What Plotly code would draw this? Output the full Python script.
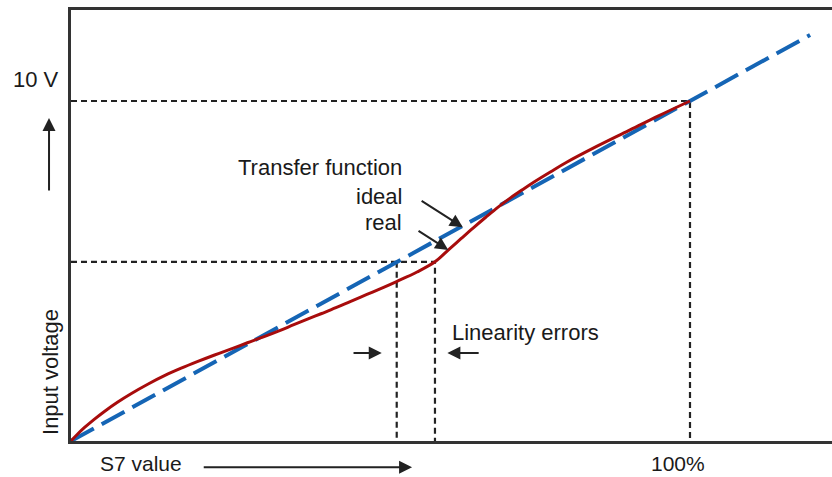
import plotly.graph_objects as go

# ---- data (x in % of S7 range, y in volts) ----
ideal_x = [0, 119.4]
ideal_y = [0, 11.94]

real_x = [0, 1.0, 2.15, 3.7, 5.4, 7.5, 9.7, 12.4, 15.1, 17.8, 20.5, 23.2, 25.9,
          28.5, 31.2, 33.6, 36.0, 38.3, 40.5, 42.8, 45.1, 47.8, 50.5, 52.6,
          55.9, 58.8, 61.2, 63.0, 65.0, 67.0, 69.0, 71.0, 73.0, 75.0, 77.5,
          80.0, 85.0, 90.0, 95.0, 100.0]
real_y = [0, 0.19, 0.39, 0.63, 0.87, 1.14, 1.39, 1.67, 1.92, 2.14, 2.34, 2.53, 2.71,
          2.89, 3.07, 3.24, 3.42, 3.59, 3.75, 3.92, 4.10, 4.31, 4.52, 4.69,
          4.97, 5.27, 5.66, 5.95, 6.27, 6.58, 6.88, 7.15, 7.40, 7.64, 7.92,
          8.19, 8.67, 9.12, 9.57, 10.0]

full_scale_pct = 100
full_scale_v = 10
err_ideal_x = 52.62
err_real_x = 58.80
err_v = 5.27

ref_h1_x = [0, full_scale_pct, full_scale_pct]
ref_h1_y = [full_scale_v, full_scale_v, 0]
ref_h2_x = [0, err_real_x, err_real_x]
ref_h2_y = [err_v, err_v, 0]
ref_v_x = [err_ideal_x, err_ideal_x]
ref_v_y = [err_v, 0]

x_range = [0, 122.94]
y_range = [0, 12.676]

W, H = 832, 477
ML, MR, MT, MB = 71, 0, 10, 36
PW, PH = W - ML - MR, H - MT - MB

FONT = "Liberation Sans, Arial, sans-serif"
TXT = "#1a1a1a"
ARROW = "#222222"
FS = 22

fig = go.Figure()

dash_style = dict(color="#222222", width=2.2, dash="6px,4px")
for xs, ys in [(ref_h1_x, ref_h1_y), (ref_h2_x, ref_h2_y), (ref_v_x, ref_v_y)]:
    fig.add_trace(go.Scatter(x=xs, y=ys, mode="lines", line=dash_style,
                             hoverinfo="skip", showlegend=False))

fig.add_trace(go.Scatter(x=ideal_x, y=ideal_y, mode="lines", name="ideal",
                         line=dict(color="#1565b5", width=4, dash="26px,9px"),
                         showlegend=False))
fig.add_trace(go.Scatter(x=real_x, y=real_y, mode="lines", name="real",
                         line=dict(color="#a80c0c", width=3, shape="spline", smoothing=1.0),
                         showlegend=False))

annotations = []

def fx(x):
    return x / x_range[1]

def fy(y):
    return y / y_range[1]

def text(x, y, s, xanchor="center", angle=0, size=FS):
    annotations.append(dict(x=fx(x), y=fy(y), xref="paper", yref="paper", text=s,
                            showarrow=False, xanchor=xanchor, yanchor="middle",
                            textangle=angle,
                            font=dict(family=FONT, size=size, color=TXT)))

def arrow(tx, ty, hx, hy, size=1.3):
    dx = (tx - hx) / x_range[1] * PW
    dy = -(ty - hy) / y_range[1] * PH
    annotations.append(dict(x=fx(hx), y=fy(hy), xref="paper", yref="paper",
                            ax=dx, ay=dy, axref="pixel", ayref="pixel", text="",
                            showarrow=True, arrowhead=2, arrowsize=size, arrowwidth=2,
                            arrowcolor=ARROW))

text(-5.65, 10.62, "10 V")
text(-3.23, 2.03, "Input voltage", angle=-90)
arrow(-3.55, 7.32, -3.55, 9.5)
text(11.3, -0.66, "S7 value", size=21)
arrow(21.2, -0.77, 55.1, -0.77)
text(98.0, -0.66, "100%", size=21)
text(53.8, 8.03, "Transfer function", xanchor="right")
text(53.8, 7.2, "ideal", xanchor="right")
text(53.8, 6.44, "real", xanchor="right")
arrow(56.4, 7.09, 63.3, 6.29)
arrow(55.9, 6.21, 60.95, 5.62)
text(61.2, 3.18, "Linearity errors", xanchor="left")
arrow(45.4, 2.59, 50.2, 2.59)
arrow(66.1, 2.59, 60.8, 2.59)

axis_common = dict(showgrid=False, zeroline=False, showticklabels=False, ticks="",
                   showline=True, linecolor="#333333", linewidth=2.5, fixedrange=True)

fig.update_layout(
    width=W, height=H,
    margin=dict(l=ML, r=MR, t=MT, b=MB),
    paper_bgcolor="white", plot_bgcolor="white",
    xaxis=dict(range=x_range, mirror=True, **axis_common),
    yaxis=dict(range=y_range, mirror=False, **axis_common),
    annotations=annotations,
    font=dict(family=FONT),
)

fig.write_html("out.html", config={"displayModeBar": False},
               post_script="document.body.style.margin='0';document.body.style.overflow='hidden';")
